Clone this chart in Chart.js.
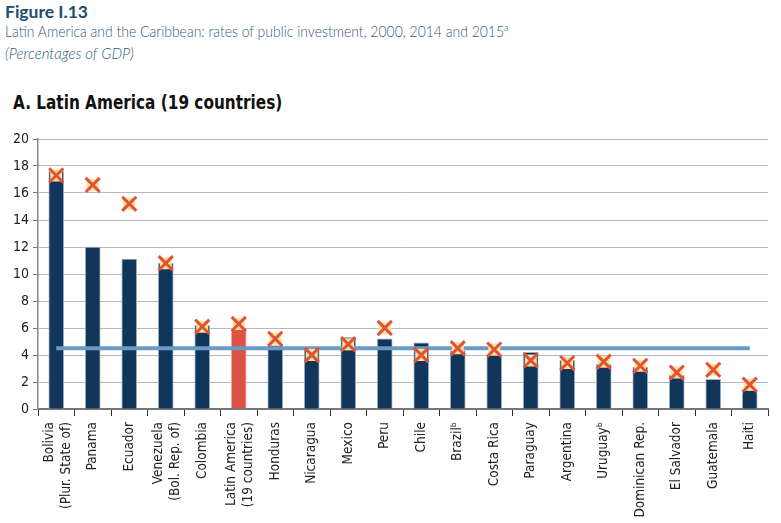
<!DOCTYPE html>
<html>
<head>
<meta charset="utf-8">
<script src="https://cdn.jsdelivr.net/npm/chart.js@4.4.1/dist/chart.umd.min.js"></script>
<style>
  html, body { margin: 0; padding: 0; background: #fff; }
  body { width: 781px; height: 523px; position: relative; overflow: hidden; }
  .fig { position: absolute; left: 5px; top: 1px; font-family: Lato, 'Open Sans', sans-serif; font-weight: 700; font-size: 17.5px; color: #1b4d6e; }
  .sub { position: absolute; left: 5px; top: 22px; font-family: Lato, 'Open Sans', sans-serif; font-weight: 300; font-size: 15.5px; color: #2f5d80; white-space: nowrap; transform: scaleX(0.9); transform-origin: left top; }
  .sub sup { font-size: 10px; vertical-align: 6px; line-height: 0; }
  .unit { position: absolute; left: 5px; top: 44px; font-family: Lato, 'Open Sans', sans-serif; font-weight: 300; font-style: italic; font-size: 15px; color: #2f5d80; }
  .panel { position: absolute; left: 13px; top: 90px; font-family: 'DejaVu Sans Condensed', sans-serif; font-weight: 700; font-size: 20px; color: #111; white-space: nowrap; transform: scaleX(0.85); transform-origin: left top; }
  #wrap { position: absolute; left: 0; top: 125px; width: 781px; height: 398px; }
</style>
</head>
<body>
<div class="fig">Figure I.13</div>
<div class="sub">Latin America and the Caribbean: rates of public investment, 2000, 2014 and 2015<sup>a</sup></div>
<div class="unit">(Percentages of GDP)</div>
<div class="panel">A. Latin America (19 countries)</div>
<div id="wrap"><canvas id="grafico"></canvas></div>
<script>
const paises = [
    ['Bolivia', '(Plur. State of)'], 'Panama', 'Ecuador', ['Venezuela', '(Bol. Rep. of)'], 'Colombia',
    ['Latin America', '(19 countries)'], 'Honduras', 'Nicaragua', 'Mexico', 'Peru', 'Chile', 'Brazil\u1D47',
    'Costa Rica', 'Paraguay', 'Argentina', 'Uruguay\u1D47', 'Dominican Rep.', 'El Salvador', 'Guatemala', 'Haiti'
];
const inv2014 = [17.6, 12.0, 11.1, 10.8, 6.2, 6.0, 4.7, 4.4, 5.3, 5.2, 4.9, 4.3, 4.0, 4.2, 3.6, 3.3, 3.1, 2.5, 2.2, 1.4];
const inv2015 = [17.3, 16.6, 15.2, 10.8, 6.1, 6.3, 5.2, 4.0, 4.8, 6.0, 4.0, 4.5, 4.4, 3.6, 3.4, 3.5, 3.2, 2.7, 2.9, 1.8];
const media2000 = [4.5, 4.5, 4.5, 4.5, 4.5, 4.5, 4.5, 4.5, 4.5, 4.5, 4.5, 4.5, 4.5, 4.5, 4.5, 4.5, 4.5, 4.5, 4.5, 4.5];
const yTicks = [0, 2, 4, 6, 8, 10, 12, 14, 16, 18, 20];

const fonteEixo = "'DejaVu Sans Condensed', sans-serif";
const corBarra = paises.map((p, i) => i === 5 ? '#dc5346' : '#12365a');
const corBorda = paises.map((p, i) => i === 5 ? '#f0b0a8' : '#9fb4c9');

// centra os rótulos de duas linhas sobre a barra
const centrarRotulos = {
    id: 'centrarRotulos',
    beforeDraw(chart) {
        const sx = chart.scales.x;
        const itens = sx.getLabelItems(chart.chartArea);
        if (itens._ajustado) return;
        itens.forEach(it => {
            if (Array.isArray(it.label)) it.options.translation[0] -= 7;
        });
        itens._ajustado = true;
    }
};

const ctx = document.getElementById('grafico').getContext('2d');
new Chart(ctx, {
    data: {
        labels: paises,
        datasets: [
            {
                type: 'bar', label: '2014', data: inv2014, order: 3,
                backgroundColor: corBarra, borderColor: corBorda, borderWidth: 1,
                barThickness: 15
            },
            {
                type: 'line', label: '2000', data: media2000, order: 2,
                borderColor: '#6b9bc4', borderWidth: 4, pointRadius: 0, fill: false
            },
            {
                type: 'line', label: '2015 fundo', data: inv2015, order: 1, showLine: false,
                pointStyle: 'rect', pointRadius: 8.5, backgroundColor: '#fde38c', borderWidth: 0
            },
            {
                type: 'line', label: '2015', data: inv2015, order: 0, showLine: false,
                pointStyle: 'crossRot', pointRadius: 10, borderColor: '#e0523f', borderWidth: 3
            }
        ]
    },
    options: {
        responsive: true,
        maintainAspectRatio: false,
        animation: false,
        layout: { padding: { top: 14, right: 3, left: 0, bottom: 0 } },
        plugins: { legend: { display: false }, tooltip: { enabled: false } },
        scales: {
            x: {
                offset: true,
                grid: { display: true, offset: true, drawOnChartArea: false, drawTicks: true, tickLength: 7, color: '#333', lineWidth: 1 },
                border: { color: '#777', width: 2 },
                ticks: {
                    minRotation: 90, maxRotation: 90, autoSkip: false, padding: 6,
                    color: '#222', font: { family: fonteEixo, size: 13.5, lineHeight: 1.25 }
                },
                afterFit: s => { s.height = 114; }
            },
            y: {
                min: 0, max: 20,
                afterBuildTicks: s => { s.ticks = yTicks.map(v => ({ value: v })); },
                grid: { color: '#b8b8b8', borderDash: [4, 3], tickBorderDash: [], tickColor: '#777', tickLength: 5, lineWidth: 1 },
                border: { color: '#888', width: 1.5 },
                ticks: { padding: 4, color: '#222', font: { family: fonteEixo, size: 14 } },
                afterFit: s => { s.width = 38; }
            }
        }
    },
    plugins: [centrarRotulos]
});
</script>
</body>
</html>
